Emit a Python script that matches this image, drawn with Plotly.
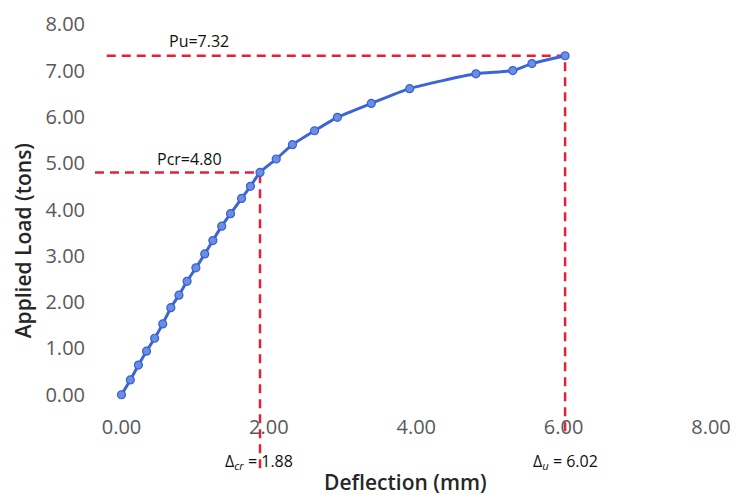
import plotly.graph_objects as go

deflection = [0.00, 0.12, 0.23, 0.34, 0.45, 0.56, 0.67, 0.78, 0.89, 1.01, 1.13, 1.24, 1.36, 1.48,
              1.63, 1.75, 1.88, 2.10, 2.32, 2.62, 2.93, 3.39, 3.91, 4.81, 5.31, 5.57, 6.02]
load = [0.00, 0.32, 0.64, 0.94, 1.22, 1.53, 1.88, 2.15, 2.45, 2.74, 3.04, 3.33, 3.64, 3.91,
        4.24, 4.50, 4.80, 5.09, 5.40, 5.70, 5.99, 6.29, 6.61, 6.93, 7.00, 7.15, 7.32]

P_cr, P_u = 4.80, 7.32
D_cr, D_u = 1.88, 6.02

x_ticks = [0, 2, 4, 6, 8]
y_ticks = [0, 1, 2, 3, 4, 5, 6, 7, 8]

red = "#e3223a"
fig = go.Figure()
fig.add_trace(go.Scatter(
    x=deflection, y=load, mode="lines+markers",
    line=dict(color="#3b64d6", width=3, shape="spline", smoothing=0.6),
    marker=dict(size=8, color="#6a8ee3", line=dict(color="#3b5fcf", width=1.2)),
    showlegend=False, cliponaxis=False,
))

dash = dict(color=red, width=2.5, dash="9px,6px")
# horizontal lines
fig.add_shape(type="line", xref="x", yref="y", x0=-0.2, x1=D_u, y0=P_u, y1=P_u, line=dash, layer="below")
fig.add_shape(type="line", xref="x", yref="y", x0=-0.36, x1=D_cr, y0=P_cr, y1=P_cr, line=dash, layer="below")
# vertical lines (extend below axis)
fig.add_shape(type="line", xref="x", yref="paper", x0=D_cr, x1=D_cr, y0=-0.165, y1=(P_cr + 0.2) / 8.4, line=dash, layer="below")
fig.add_shape(type="line", xref="x", yref="paper", x0=D_u, x1=D_u, y0=-0.07, y1=(P_u + 0.2) / 8.4, line=dash, layer="below")

ann_font = dict(family="Open Sans", size=16, color="#111111")
fig.add_annotation(x=1.05, y=P_u, xref="x", yref="y", text="Pu=7.32", showarrow=False,
                   yanchor="bottom", yshift=2, font=ann_font)
fig.add_annotation(x=0.92, y=P_cr, xref="x", yref="y", text="Pcr=4.80", showarrow=False,
                   yanchor="bottom", yshift=0, font=ann_font)
fig.add_annotation(x=D_cr - 0.02, y=-0.147, xref="x", yref="paper", xanchor="center", yanchor="middle",
                   text="Δ<sub><i>cr</i></sub> = 1.88", showarrow=False, font=ann_font)
fig.add_annotation(x=D_u, y=-0.147, xref="x", yref="paper", xanchor="center", yanchor="middle",
                   text="Δ<sub><i>u</i></sub> = 6.02", showarrow=False, font=ann_font)

title_font = dict(family="Open Sans", size=21, color="#262626", weight=600)
fig.add_annotation(x=3.85, y=-0.2, xref="x", yref="paper", xanchor="center", yanchor="middle",
                   text="Deflection (mm)", showarrow=False, font=title_font)
fig.add_annotation(x=-0.112, y=0.42, xref="paper", yref="paper", xanchor="center", yanchor="middle",
                   text="Applied Load (tons)", showarrow=False, textangle=-90, font=title_font)

tick_font = dict(family="Open Sans", size=20, color="#595959")
fig.update_xaxes(range=[-0.4, 8.0], tickvals=x_ticks, tickformat=".2f", showgrid=False,
                 zeroline=False, showline=False, ticks="outside", ticklen=5,
                 tickcolor="rgba(0,0,0,0)", tickfont=tick_font)
fig.update_yaxes(range=[-0.2, 8.2], tickvals=y_ticks, tickformat=".2f", showgrid=False,
                 zeroline=False, showline=False, ticks="outside", ticklen=2,
                 tickcolor="rgba(0,0,0,0)", tickfont=tick_font)
fig.update_layout(width=741, height=496, margin=dict(l=92, r=25, t=10, b=92),
                  plot_bgcolor="white", paper_bgcolor="white")
fig.write_html("out.html")
